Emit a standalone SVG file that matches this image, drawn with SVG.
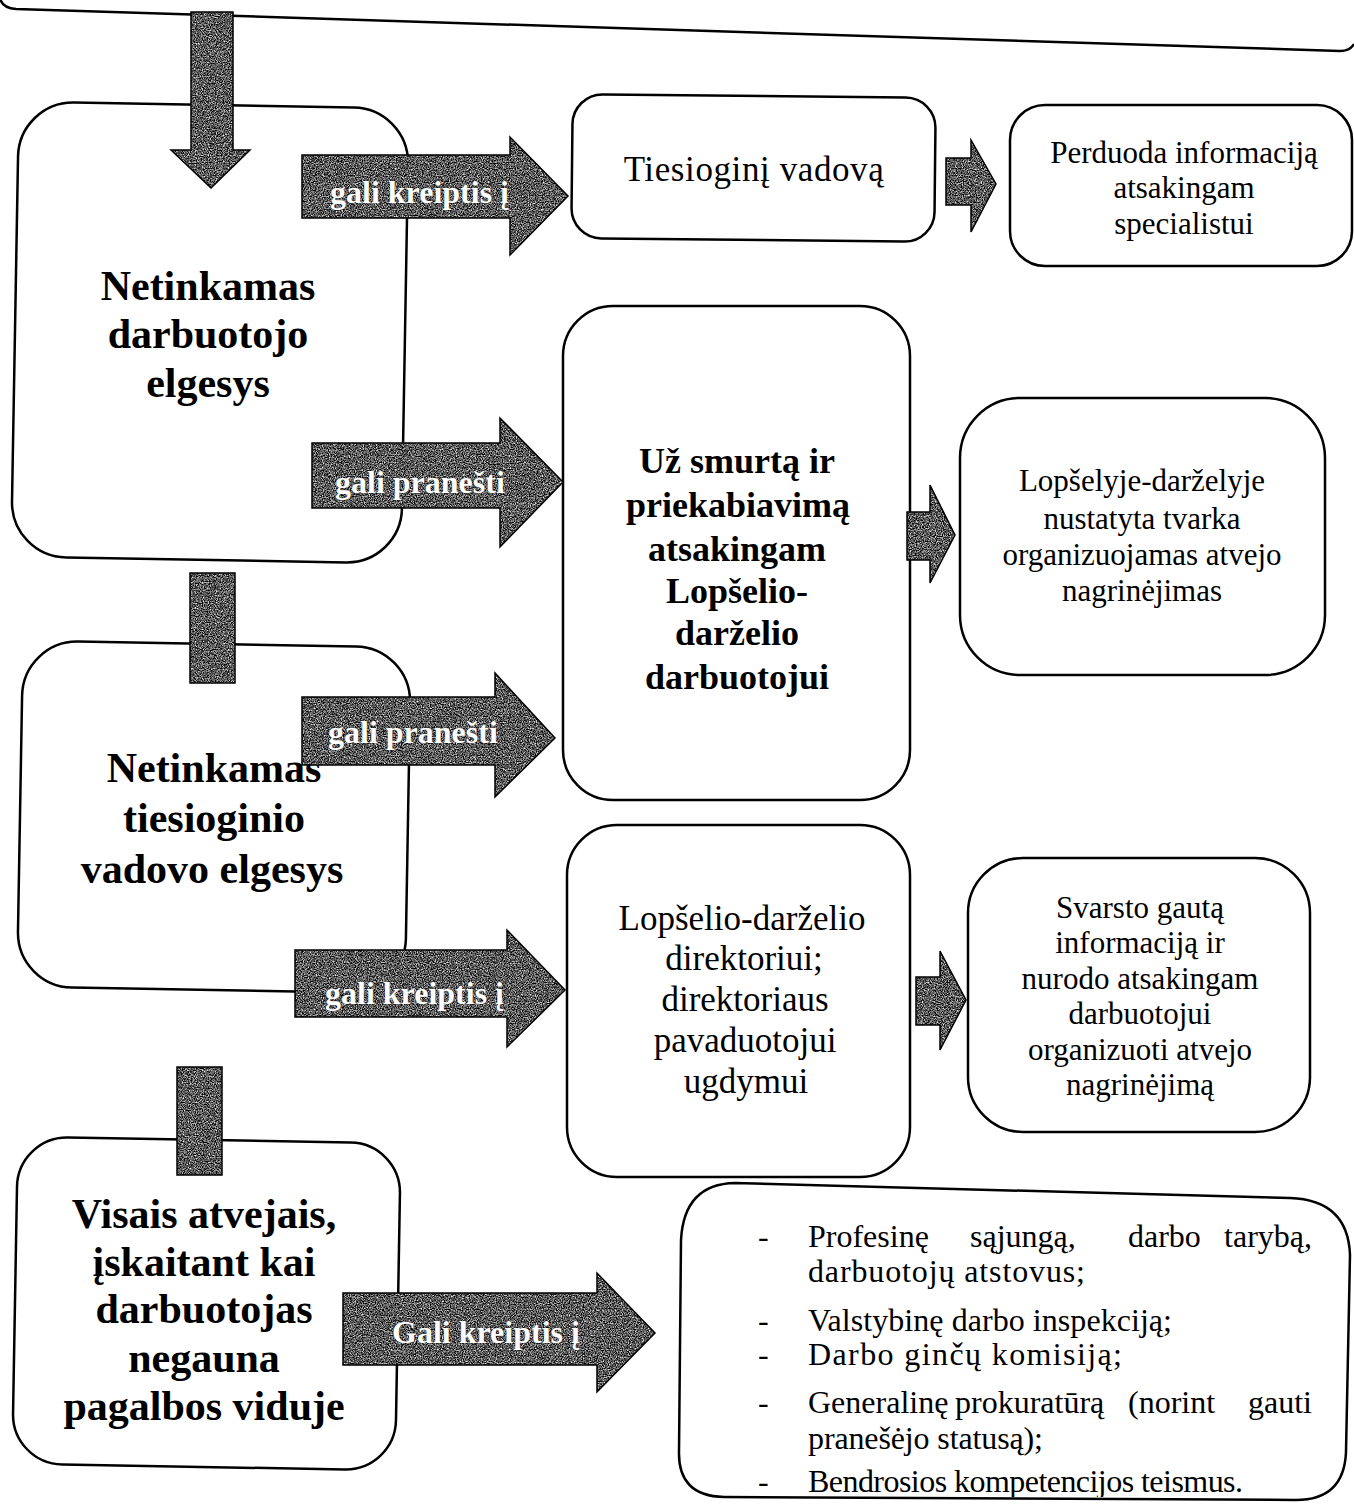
<svg xmlns="http://www.w3.org/2000/svg" width="1354" height="1511" viewBox="0 0 1354 1511">
<style>
.box{fill:#fff;stroke:#000;stroke-width:2.5}
.arr{fill:#444;stroke:none}
.arro{fill:none;stroke:#000;stroke-width:1.5;stroke-linejoin:miter}
.big{font-family:"Liberation Serif","Times New Roman",serif;font-weight:bold;font-size:42px;fill:#000;text-anchor:middle}
.mid{font-family:"Liberation Serif","Times New Roman",serif;font-weight:bold;font-size:36px;fill:#000;text-anchor:middle}
.reg{font-family:"Liberation Serif","Times New Roman",serif;font-size:35px;fill:#000;text-anchor:middle}
.sm{font-family:"Liberation Serif","Times New Roman",serif;font-size:31px;fill:#000;text-anchor:middle}
.li{font-family:"Liberation Serif","Times New Roman",serif;font-size:32px;fill:#000}
.lab{font-family:"Liberation Serif","Times New Roman",serif;font-weight:bold;font-size:32px;fill:#fff;stroke:#222;stroke-width:0.6;paint-order:stroke}
</style>
<defs>
<filter id="grain" x="0" y="0" width="1" height="1" color-interpolation-filters="sRGB">
<feTurbulence type="fractalNoise" baseFrequency="0.85" numOctaves="2" seed="7" result="n"/>
<feColorMatrix in="n" type="matrix" values="1.9 0 0 0 -0.6 1.9 0 0 0 -0.6 1.9 0 0 0 -0.6 0 0 0 0 1" result="g"/>
<feComposite in="g" in2="SourceAlpha" operator="in"/>
</filter>
<clipPath id="lastclip"><rect x="680" y="1180" width="674" height="317"/></clipPath>
</defs>

<g id="top-frame">
<path d="M0,-2 Q2,8 16,9 L1340,51 Q1350,51 1354,44" fill="none" stroke="#000" stroke-width="2.5"/>
</g>

<g id="node-darbuotojo">
<rect class="box" x="15" y="105" width="390" height="455" rx="55" transform="rotate(1 210 332)"/>
<text class="big" x="208" y="300">Netinkamas</text>
<text class="big" x="208" y="348">darbuotojo</text>
<text class="big" x="208" y="397">elgesys</text>
</g>

<g id="node-vadovo">
<rect class="box" x="20" y="644" width="388" height="346" rx="55" transform="rotate(1 214 817)"/>
<text class="big" x="214" y="782">Netinkamas</text>
<text class="big" x="214" y="832">tiesioginio</text>
<text class="big" x="212" y="883">vadovo elgesys</text>
</g>

<g id="node-visais">
<rect class="box" x="15" y="1140" width="383" height="327" rx="50" transform="rotate(1 206 1303)"/>
<text class="big" x="204" y="1228">Visais atvejais,</text>
<text class="big" x="204" y="1276">įskaitant kai</text>
<text class="big" x="204" y="1323">darbuotojas</text>
<text class="big" x="204" y="1372">negauna</text>
<text class="big" x="204" y="1420">pagalbos viduje</text>
</g>

<g id="node-tiesiogini">
<rect class="box" x="572" y="96" width="363" height="144" rx="30" transform="rotate(0.6 753 168)"/>
<text class="reg" x="754" y="181" font-size="38" letter-spacing="0.6">Tiesioginį vadovą</text>
</g>

<g id="node-smurta">
<rect class="box" x="563" y="306" width="347" height="494" rx="50"/>
<text class="mid" x="737" y="473">Už smurtą ir</text>
<text class="mid" x="738" y="517">priekabiavimą</text>
<text class="mid" x="737" y="561">atsakingam</text>
<text class="mid" x="737" y="603">Lopšelio-</text>
<text class="mid" x="737" y="645">darželio</text>
<text class="mid" x="737" y="689">darbuotojui</text>
</g>

<g id="node-direktoriui">
<rect class="box" x="567" y="825" width="343" height="352" rx="50"/>
<text class="reg" x="742" y="930">Lopšelio-darželio</text>
<text class="reg" x="744" y="970">direktoriui;</text>
<text class="reg" x="745" y="1011">direktoriaus</text>
<text class="reg" x="745" y="1052">pavaduotojui</text>
<text class="reg" x="746" y="1093">ugdymui</text>
</g>

<g id="node-perduoda">
<rect class="box" x="1010" y="105" width="342" height="161" rx="35"/>
<text class="sm" x="1184" y="163">Perduoda informaciją</text>
<text class="sm" x="1184" y="198">atsakingam</text>
<text class="sm" x="1184" y="234">specialistui</text>
</g>

<g id="node-lopselyje">
<rect class="box" x="960" y="398" width="365" height="277" rx="60"/>
<text class="sm" x="1142" y="491">Lopšelyje-darželyje</text>
<text class="sm" x="1142" y="529">nustatyta tvarka</text>
<text class="sm" x="1142" y="565">organizuojamas atvejo</text>
<text class="sm" x="1142" y="601">nagrinėjimas</text>
</g>

<g id="node-svarsto">
<rect class="box" x="968" y="858" width="342" height="274" rx="55"/>
<text class="sm" x="1140" y="918" font-size="30">Svarsto gautą</text>
<text class="sm" x="1140" y="953" font-size="30">informaciją ir</text>
<text class="sm" x="1140" y="989" font-size="30">nurodo atsakingam</text>
<text class="sm" x="1140" y="1024" font-size="30">darbuotojui</text>
<text class="sm" x="1140" y="1060" font-size="30">organizuoti atvejo</text>
<text class="sm" x="1140" y="1095" font-size="30">nagrinėjimą</text>
</g>

<g id="node-institucijos">
<path class="box" d="M735,1183 L1290,1198 Q1348,1200 1350,1255 L1346,1452 Q1344,1500 1296,1500 L724,1497 Q678,1496 679,1452 L681,1240 Q684,1184 735,1183 Z"/>
<g clip-path="url(#lastclip)">
<text class="li" x="758" y="1247">-</text>
<text class="li" x="808" y="1247">Profesinę</text>
<text class="li" x="970" y="1247">sąjungą,</text>
<text class="li" x="1128" y="1247">darbo</text>
<text class="li" x="1312" y="1247" text-anchor="end">tarybą,</text>
<text class="li" x="808" y="1282" textLength="277" lengthAdjust="spacing">darbuotojų atstovus;</text>
<text class="li" x="758" y="1331">-</text>
<text class="li" x="808" y="1331" textLength="364" lengthAdjust="spacing">Valstybinę darbo inspekciją;</text>
<text class="li" x="758" y="1365">-</text>
<text class="li" x="808" y="1365" textLength="314" lengthAdjust="spacing">Darbo ginčų komisiją;</text>
<text class="li" x="758" y="1413">-</text>
<text class="li" x="808" y="1413">Generalinę</text>
<text class="li" x="955" y="1413">prokuratūrą</text>
<text class="li" x="1128" y="1413">(norint</text>
<text class="li" x="1312" y="1413" text-anchor="end">gauti</text>
<text class="li" x="808" y="1449" textLength="235" lengthAdjust="spacing">pranešėjo statusą);</text>
<text class="li" x="758" y="1492">-</text>
<text class="li" x="808" y="1492" textLength="435" lengthAdjust="spacing">Bendrosios kompetencijos teismus.</text>
</g>
</g>

<g id="connectors">
<g id="down1">
<polygon class="arr" filter="url(#grain)" points="191,12 233,12 233,150 250,150 211,188 171,150 191,150"/>
<polygon class="arro" points="191,12 233,12 233,150 250,150 211,188 171,150 191,150"/>
</g>
<g id="down2">
<rect class="arr" filter="url(#grain)" x="190" y="573" width="45" height="110"/>
<rect class="arro" x="190" y="573" width="45" height="110"/>
</g>
<g id="down3">
<rect class="arr" filter="url(#grain)" x="177" y="1067" width="45" height="108"/>
<rect class="arro" x="177" y="1067" width="45" height="108"/>
</g>
<g id="arrow1">
<polygon class="arr" filter="url(#grain)" points="302,155 510,155 510,137 568,196 510,255 510,218 302,218"/>
<polygon class="arro" points="302,155 510,155 510,137 568,196 510,255 510,218 302,218"/>
<text class="lab" x="330" y="203">gali kreiptis į</text>
</g>
<g id="arrow2">
<polygon class="arr" filter="url(#grain)" points="312,443 500,443 500,418 563,482 500,547 500,508 312,508"/>
<polygon class="arro" points="312,443 500,443 500,418 563,482 500,547 500,508 312,508"/>
<text class="lab" x="335" y="493" font-size="33">gali pranešti</text>
</g>
<g id="arrow3">
<polygon class="arr" filter="url(#grain)" points="302,697 495,697 495,673 555,738 495,797 495,765 302,765"/>
<polygon class="arro" points="302,697 495,697 495,673 555,738 495,797 495,765 302,765"/>
<text class="lab" x="328" y="743" font-size="33">gali pranešti</text>
</g>
<g id="arrow4">
<polygon class="arr" filter="url(#grain)" points="295,950 507,950 507,930 565,990 507,1047 507,1017 295,1017"/>
<polygon class="arro" points="295,950 507,950 507,930 565,990 507,1047 507,1017 295,1017"/>
<text class="lab" x="325" y="1004">gali kreiptis į</text>
</g>
<g id="arrow5">
<polygon class="arr" filter="url(#grain)" points="343,1293 597,1293 597,1273 655,1333 597,1392 597,1365 343,1365"/>
<polygon class="arro" points="343,1293 597,1293 597,1273 655,1333 597,1392 597,1365 343,1365"/>
<text class="lab" x="392" y="1343" font-size="32.5">Gali kreiptis į</text>
</g>
<g id="arrow6">
<polygon class="arr" filter="url(#grain)" points="946,158 971,158 971,140 996,184 971,232 971,205 946,205"/>
<polygon class="arro" points="946,158 971,158 971,140 996,184 971,232 971,205 946,205"/>
</g>
<g id="arrow7">
<polygon class="arr" filter="url(#grain)" points="907,512 930,512 930,485 955,535 930,583 930,560 907,560"/>
<polygon class="arro" points="907,512 930,512 930,485 955,535 930,583 930,560 907,560"/>
</g>
<g id="arrow8">
<polygon class="arr" filter="url(#grain)" points="916,977 940,977 940,951 966,1000 940,1050 940,1025 916,1025"/>
<polygon class="arro" points="916,977 940,977 940,951 966,1000 940,1050 940,1025 916,1025"/>
</g>
</g>
</svg>
